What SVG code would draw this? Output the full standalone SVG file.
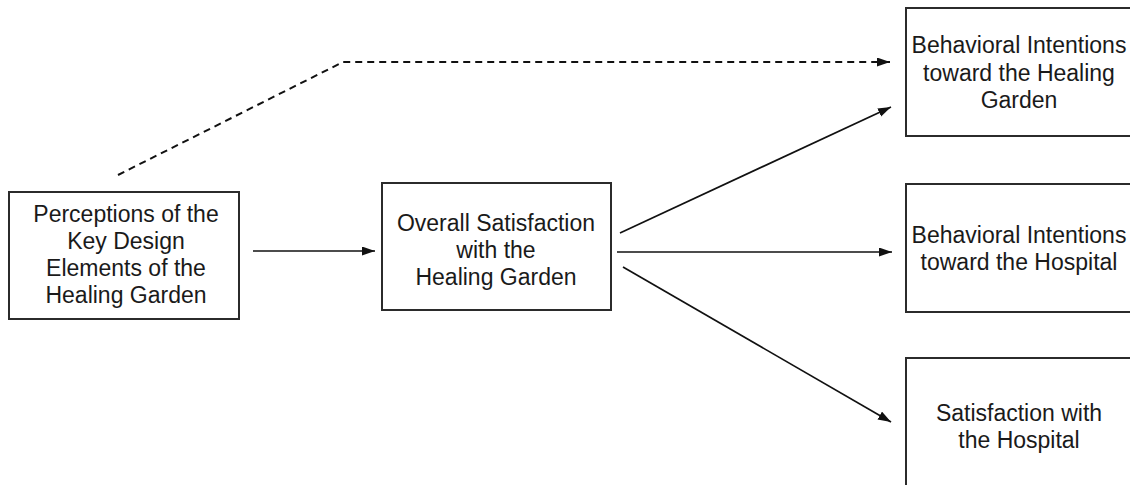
<svg xmlns="http://www.w3.org/2000/svg" width="1130" height="485" viewBox="0 0 1130 485">
<style>
.box{fill:#fff;stroke:#2b2b2b;stroke-width:2}
.lbl{font-family:"Liberation Sans",Arial,sans-serif;font-size:23px;fill:#1a1a1a;text-anchor:middle}
.con{fill:none;stroke:#111;stroke-width:1.7}
.dash{stroke-width:2;stroke-dasharray:7 5}
</style>
<defs>
<marker id="ah" markerUnits="userSpaceOnUse" markerWidth="14" markerHeight="10" refX="13" refY="4.5" orient="auto">
<path d="M0,0 L13,4.5 L0,9 z" fill="#111"/>
</marker>
</defs>
<rect width="1130" height="485" fill="#fff"/>
<g id="connectors">
<polyline class="con dash" points="118,175 343,62 890,62" marker-end="url(#ah)"/>
<line class="con" x1="253" y1="251" x2="375" y2="251" marker-end="url(#ah)"/>
<line class="con" x1="620" y1="233" x2="891" y2="107" marker-end="url(#ah)"/>
<line class="con" x1="617" y1="252" x2="892" y2="252" marker-end="url(#ah)"/>
<line class="con" x1="623" y1="267" x2="891" y2="422" marker-end="url(#ah)"/>
</g>
<g id="n-perceptions">
<rect class="box" x="9" y="192" width="230" height="127"/>
<text class="lbl" x="126" y="222">Perceptions of the</text>
<text class="lbl" x="126" y="249">Key Design</text>
<text class="lbl" x="126" y="276">Elements of the</text>
<text class="lbl" x="126" y="303">Healing Garden</text>
</g>
<g id="n-overall">
<rect class="box" x="382" y="183" width="229" height="127"/>
<text class="lbl" x="496" y="231">Overall Satisfaction</text>
<text class="lbl" x="496" y="258">with the</text>
<text class="lbl" x="496" y="285">Healing Garden</text>
</g>
<g id="n-bi-garden">
<rect class="box" x="906" y="8" width="228" height="128"/>
<text class="lbl" x="1019" y="53">Behavioral Intentions</text>
<text class="lbl" x="1019" y="81">toward the Healing</text>
<text class="lbl" x="1019" y="108">Garden</text>
</g>
<g id="n-bi-hospital">
<rect class="box" x="906" y="184" width="228" height="128"/>
<text class="lbl" x="1019" y="243">Behavioral Intentions</text>
<text class="lbl" x="1019" y="270">toward the Hospital</text>
</g>
<g id="n-sat-hospital">
<rect class="box" x="906" y="358" width="228" height="140"/>
<text class="lbl" x="1019" y="421">Satisfaction with</text>
<text class="lbl" x="1019" y="448">the Hospital</text>
</g>
</svg>
